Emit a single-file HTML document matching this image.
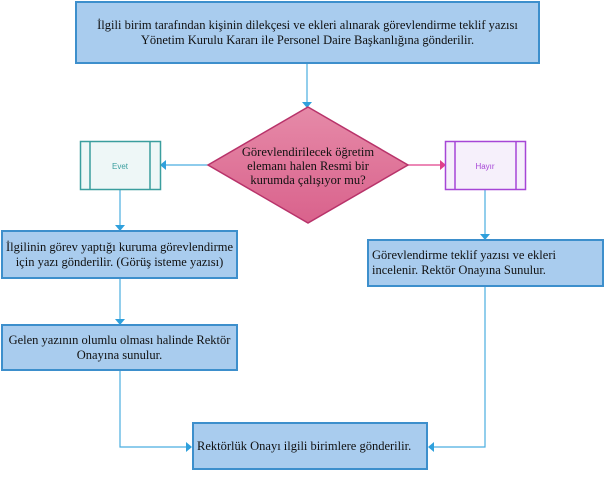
<!DOCTYPE html>
<html><head><meta charset="utf-8"><style>
body{margin:0;width:605px;height:494px;background:#fff;position:relative;overflow:hidden;font-family:"Liberation Serif",serif;}
.b{position:absolute;box-sizing:border-box;background:#a9ccee;border:2px solid #3d8fcc;font-size:12.5px;color:#111;display:flex;align-items:center;line-height:15px;}
</style></head><body>
<div class="b" style="left:75px;top:1px;width:465px;height:63px;justify-content:center;text-align:center;">İlgili birim tarafından kişinin dilekçesi ve ekleri alınarak görevlendirme teklif yazısı<br>Yönetim Kurulu Kararı ile Personel Daire Başkanlığına gönderilir.</div>
<div class="b" style="left:1px;top:230px;width:237px;height:49px;justify-content:center;text-align:center;">İlgilinin görev yaptığı kuruma görevlendirme<br>için yazı gönderilir. (Görüş isteme yazısı)</div>
<div class="b" style="left:367px;top:239px;width:237px;height:48px;padding-left:3px;">Görevlendirme teklif yazısı ve ekleri<br>incelenir. Rektör Onayına Sunulur.</div>
<div class="b" style="left:1px;top:324px;width:237px;height:47px;justify-content:center;text-align:center;">Gelen yazının olumlu olması halinde Rektör<br>Onayına sunulur.</div>
<div class="b" style="left:192px;top:422px;width:236px;height:48px;padding-left:3px;">Rektörlük Onayı ilgili birimlere gönderilir.</div>
<svg width="605" height="494" style="position:absolute;left:0;top:0">
<defs><linearGradient id="g" x1="0" y1="0" x2="0" y2="1"><stop offset="0" stop-color="#e68aa8"/><stop offset="1" stop-color="#d9628c"/></linearGradient></defs>
<g stroke="#4aaee0" stroke-width="1.2" fill="none">
<line x1="307" y1="64" x2="307" y2="102"/>
<line x1="208" y1="165" x2="166" y2="165"/>
<line x1="120" y1="190" x2="120" y2="225"/>
<line x1="485" y1="190" x2="485" y2="234"/>
<line x1="120" y1="279" x2="120" y2="319"/>
<polyline points="120,371 120,447 186,447"/>
<polyline points="485,287 485,447 434,447"/>
</g>
<line x1="408" y1="165" x2="440" y2="165" stroke="#e0408a" stroke-width="1.2"/>
<g fill="#2fa0dc">
<polygon points="302,102 312,102 307,108"/>
<polygon points="166,160 166,170 160,165"/>
<polygon points="115,225 125,225 120,231"/>
<polygon points="480,234 490,234 485,240"/>
<polygon points="115,319 125,319 120,325"/>
<polygon points="186,442 186,452 192,447"/>
<polygon points="434,442 434,452 428,447"/>
</g>
<polygon points="440,160 440,170 446,165" fill="#e0408a"/>
<polygon points="308,107 408,165 308,223 208,165" fill="url(#g)" stroke="#b8336a" stroke-width="1.5"/>
<text font-family="Liberation Serif,serif" font-size="12.5" fill="#111" text-anchor="middle"><tspan x="308" y="156">Görevlendirilecek öğretim</tspan><tspan x="308" y="170">elemanı halen Resmi bir</tspan><tspan x="308" y="184">kurumda çalışıyor mu?</tspan></text>
<rect x="80.5" y="141.5" width="80" height="48" fill="#eef7f7" stroke="#3a9e9e" stroke-width="1.5"/>
<line x1="90" y1="141.5" x2="90" y2="189.5" stroke="#3a9e9e" stroke-width="1.5"/>
<line x1="150" y1="141.5" x2="150" y2="189.5" stroke="#3a9e9e" stroke-width="1.5"/>
<text x="120" y="169" font-family="Liberation Sans,sans-serif" font-size="8" fill="#3a9e9e" text-anchor="middle">Evet</text>
<rect x="445.5" y="141.5" width="80" height="48" fill="#f6f0fb" stroke="#a646d6" stroke-width="1.5"/>
<line x1="455" y1="141.5" x2="455" y2="189.5" stroke="#a646d6" stroke-width="1.5"/>
<line x1="516" y1="141.5" x2="516" y2="189.5" stroke="#a646d6" stroke-width="1.5"/>
<text x="485" y="169" font-family="Liberation Sans,sans-serif" font-size="8" fill="#a646d6" text-anchor="middle">Hayır</text>
</svg>
</body></html>
